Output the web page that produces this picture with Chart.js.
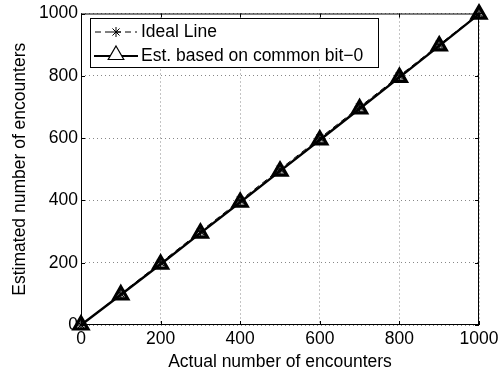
<!DOCTYPE html>
<html>
<head>
<meta charset="utf-8">
<script src="https://cdn.jsdelivr.net/npm/chart.js@4/dist/chart.umd.min.js"></script>
<style>
    html, body { margin: 0; padding: 0; background: #fff; }
    #wrap { width: 504px; height: 375px; }
</style>
</head>
<body>
<div id="wrap"><canvas id="myChart"></canvas></div>
<script>
// Data
const actual = [0, 100, 200, 300, 400, 500, 600, 700, 800, 900, 1000]
const ideal = [0, 100, 200, 300, 400, 500, 600, 700, 800, 900, 1000]
const estimated = [0, 97, 195, 295, 394, 494, 594, 694, 795, 896, 998]
const xTicks = [0, 200, 400, 600, 800, 1000]
const yTicks = [0, 200, 400, 600, 800, 1000]
const labels = ['Ideal Line', 'Est. based on common bit\u22120']

const FONT = '"Liberation Sans", Arial, Helvetica, sans-serif'

function toPoints(xs, ys) {
    return xs.map(function (x, i) { return { x: x, y: ys[i] } })
}

function drawStar(ctx, x, y, r) {
    ctx.beginPath()
    for (let a = 0; a < 4; a++) {
        const ang = a * Math.PI / 4
        ctx.moveTo(x - r * Math.cos(ang), y - r * Math.sin(ang))
        ctx.lineTo(x + r * Math.cos(ang), y + r * Math.sin(ang))
    }
    ctx.stroke()
}

function drawTriangle(ctx, x, y, r) {
    ctx.beginPath()
    ctx.moveTo(x, y - r)
    ctx.lineTo(x + r * 0.866, y + r / 2)
    ctx.lineTo(x - r * 0.866, y + r / 2)
    ctx.closePath()
    ctx.fillStyle = '#fff'
    ctx.fill()
    ctx.stroke()
}

// Box, inward ticks and legend, drawn on top
const framePlugin = {
    id: 'frame',
    afterDraw(chart) {
        const ctx = chart.ctx
        const a = chart.chartArea
        const xs = chart.scales.x
        const ys = chart.scales.y
        ctx.save()
        ctx.strokeStyle = '#000'
        ctx.lineWidth = 1
        ctx.setLineDash([])
        ctx.strokeRect(a.left + 0.5, a.top + 0.5, a.right - a.left - 1, a.bottom - a.top - 1)

        ctx.beginPath()
        xTicks.forEach(function (v) {
            const px = Math.round(xs.getPixelForValue(v)) + 0.5
            ctx.moveTo(px, a.bottom); ctx.lineTo(px, a.bottom - 4)
            ctx.moveTo(px, a.top); ctx.lineTo(px, a.top + 4)
        })
        yTicks.forEach(function (v) {
            const py = Math.round(ys.getPixelForValue(v)) + 0.5
            ctx.moveTo(a.left, py); ctx.lineTo(a.left + 4, py)
            ctx.moveTo(a.right, py); ctx.lineTo(a.right - 4, py)
        })
        ctx.stroke()

        // Legend
        const lx = 90, ly = 18, lw = 288, lh = 49
        ctx.fillStyle = '#fff'
        ctx.fillRect(lx, ly, lw, lh)
        ctx.strokeRect(lx + 0.5, ly + 0.5, lw, lh)

        ctx.font = '17.5px ' + FONT
        ctx.textBaseline = 'middle'
        ctx.fillStyle = '#000'

        const r1 = 32, r2 = 56
        ctx.lineWidth = 1
        ctx.setLineDash([6, 4])
        ctx.beginPath()
        ctx.moveTo(95, r1); ctx.lineTo(137, r1)
        ctx.stroke()
        ctx.setLineDash([])
        drawStar(ctx, 116, r1, 5)
        ctx.fillText(labels[0], 141, r1)

        ctx.lineWidth = 2
        ctx.beginPath()
        ctx.moveTo(94, r2); ctx.lineTo(138, r2)
        ctx.stroke()
        ctx.lineWidth = 1.2
        drawTriangle(ctx, 116, r2 - 1, 9)
        ctx.fillStyle = '#000'
        ctx.fillText(labels[1], 141, r2)
        ctx.restore()
    }
}

const axisFont = { family: FONT, size: 17.5 }

function plainLabel(v) {
    return String(v)
}

const chart = new Chart(document.getElementById('myChart'), {
    type: 'scatter',
    data: {
        datasets: [
            {
                label: labels[0],
                data: toPoints(actual, ideal),
                showLine: true,
                borderColor: '#000',
                borderWidth: 1,
                borderDash: [6, 4],
                pointStyle: 'star',
                pointRadius: 5,
                pointBorderWidth: 1,
                pointBorderColor: '#000',
                backgroundColor: '#000',
                clip: false
            },
            {
                label: labels[1],
                data: toPoints(actual, estimated),
                showLine: true,
                borderColor: '#000',
                borderWidth: 2.4,
                pointStyle: 'triangle',
                pointRadius: 8,
                pointBorderWidth: 3.2,
                pointBorderColor: '#000',
                pointBackgroundColor: 'rgba(0,0,0,0.35)',
                clip: false
            }
        ]
    },
    options: {
        responsive: true,
        maintainAspectRatio: false,
        animation: false,
        events: [],
        layout: { padding: { top: 10, right: 25, left: 0, bottom: 0 } },
        plugins: {
            legend: { display: false },
            tooltip: { enabled: false }
        },
        scales: {
            x: {
                type: 'linear',
                min: 0,
                max: 1000,
                afterFit: function (s) { s.height = 50 },
                afterBuildTicks: function (s) { s.ticks = xTicks.map(function (v) { return { value: v } }) },
                ticks: { color: '#000', font: axisFont, padding: 4, maxRotation: 0, callback: plainLabel },
                grid: { color: '#888', lineWidth: 1, drawTicks: false, tickLength: 0 },
                border: { display: false, dash: [1, 3] },
                title: { display: true, text: 'Actual number of encounters', color: '#000', font: axisFont, padding: { top: 0, bottom: 2 } }
            },
            y: {
                type: 'linear',
                min: 0,
                max: 1000,
                afterFit: function (s) { s.width = 81 },
                afterBuildTicks: function (s) { s.ticks = yTicks.map(function (v) { return { value: v } }) },
                ticks: { color: '#000', font: axisFont, padding: 3, callback: plainLabel },
                grid: { color: '#888', lineWidth: 1, drawTicks: false, tickLength: 0 },
                border: { display: false, dash: [1, 3] },
                title: { display: true, text: 'Estimated number of encounters', color: '#000', font: axisFont, padding: { top: 10, bottom: 0 } }
            }
        }
    },
    plugins: [framePlugin]
})
</script>
</body>
</html>
